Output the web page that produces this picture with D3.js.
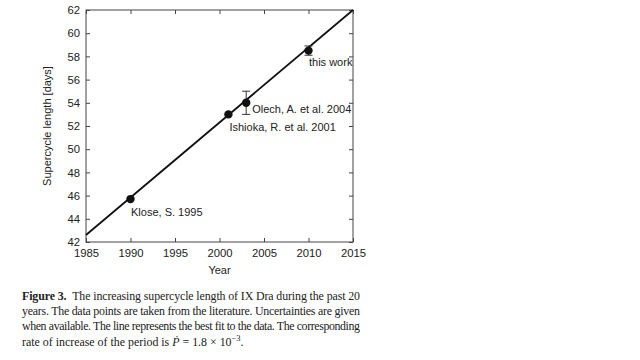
<!DOCTYPE html>
<html><head><meta charset="utf-8">
<script src="https://cdn.jsdelivr.net/npm/d3@7"></script>
<style>body{margin:0;background:#fff}svg{display:block}</style>
</head><body>
<svg id="c" width="640" height="360"></svg>
<script>
const years = [1990, 2001, 2003, 2010];
const lengths = [45.7, 53.0, 54.0, 58.5];
const errors = [0, 0, 1.0, 0.4];
const labels = ["Klose, S. 1995", "Ishioka, R. et al. 2001", "Olech, A. et al. 2004", "this work"];
const fitYears = [1985, 2015];
const fitValues = [42.6, 62.0];
const xTicks = [1985, 1990, 1995, 2000, 2005, 2010, 2015];
const yTicks = [42, 44, 46, 48, 50, 52, 54, 56, 58, 60, 62];
const captionLines = [
  "The increasing supercycle length of IX Dra during the past 20",
  "years. The data points are taken from the literature. Uncertainties are given",
  "when available. The line represents the best fit to the data. The corresponding",
  "rate of increase of the period is "
];

const svg = d3.select("#c");
const L = 86, R = 353, T = 10, B = 242;
const x = d3.scaleLinear().domain([1985, 2015]).range([L, R]);
const y = d3.scaleLinear().domain([42, 62]).range([B, T]);
const ink = "#222";
const sans = "'Liberation Sans', Arial, sans-serif";

// frame
svg.append("rect").attr("x", L).attr("y", T).attr("width", R - L).attr("height", B - T)
  .attr("fill", "none").attr("stroke", "#444").attr("stroke-width", 1);

// axes with inward ticks
const gx = svg.append("g").attr("transform", `translate(0,${B})`)
  .call(d3.axisBottom(x).tickValues(xTicks).tickFormat(d3.format("d")).tickSizeInner(-4).tickSizeOuter(0).tickPadding(7));
const gxt = svg.append("g").attr("transform", `translate(0,${T})`)
  .call(d3.axisTop(x).tickValues(xTicks).tickSizeInner(-4).tickSizeOuter(0).tickFormat(""));
const gy = svg.append("g").attr("transform", `translate(${L},0)`)
  .call(d3.axisLeft(y).tickValues(yTicks).tickSizeInner(-4).tickSizeOuter(0).tickPadding(6));
const gyr = svg.append("g").attr("transform", `translate(${R},0)`)
  .call(d3.axisRight(y).tickValues(yTicks).tickSizeInner(-4).tickSizeOuter(0).tickFormat(""));
[gx, gxt, gy, gyr].forEach(g => {
  g.select(".domain").remove();
  g.selectAll("line").attr("stroke", "#444");
  g.selectAll("text").attr("font-family", sans).attr("font-size", 11.3).attr("fill", ink);
});

// axis titles
svg.append("text").attr("x", (L + R) / 2).attr("y", 274).attr("text-anchor", "middle")
  .attr("font-family", sans).attr("font-size", 11).attr("fill", ink).text("Year");
svg.append("text").attr("transform", `translate(51,${(T + B) / 2}) rotate(-90)`).attr("text-anchor", "middle")
  .attr("font-family", sans).attr("font-size", 11).attr("fill", ink).text("Supercycle length [days]");

// fit line
const fit = fitYears.map((d, i) => [d, fitValues[i]]);
svg.append("path").attr("d", d3.line().x(d => x(d[0])).y(d => y(d[1]))(fit))
  .attr("stroke", "#111").attr("stroke-width", 1.8).attr("fill", "none");

const pts = years.map((d, i) => ({yr: d, v: lengths[i], e: errors[i], lab: labels[i]}));
// error bars
const eb = svg.append("g").selectAll("g").data(pts.filter(d => d.e > 0)).join("g").attr("stroke", "#333").attr("stroke-width", 1);
eb.append("line").attr("x1", d => x(d.yr)).attr("x2", d => x(d.yr)).attr("y1", d => y(d.v - d.e)).attr("y2", d => y(d.v + d.e));
eb.append("line").attr("x1", d => x(d.yr) - 4).attr("x2", d => x(d.yr) + 4).attr("y1", d => y(d.v - d.e)).attr("y2", d => y(d.v - d.e));
eb.append("line").attr("x1", d => x(d.yr) - 4).attr("x2", d => x(d.yr) + 4).attr("y1", d => y(d.v + d.e)).attr("y2", d => y(d.v + d.e));

// points
svg.append("g").selectAll("circle").data(pts).join("circle")
  .attr("cx", d => x(d.yr)).attr("cy", d => y(d.v)).attr("r", 4.2).attr("fill", "#111");

// annotations (offsets relative to point)
const offs = [[0.5, 17], [1, 16.5], [6, 10], [0.5, 15.5]];
svg.append("g").selectAll("text").data(pts).join("text")
  .attr("x", (d, i) => x(d.yr) + offs[i][0]).attr("y", (d, i) => y(d.v) + offs[i][1])
  .attr("font-family", sans).attr("font-size", 11).attr("fill", ink).text(d => d.lab);

// caption
const serif = "'Liberation Serif', 'Times New Roman', serif";
const cap = svg.append("g").attr("font-family", serif).attr("font-size", 11.9).attr("fill", "#222");
const capX = 22, capW = 338, capY0 = 300, capDy = 15.2;
const t0 = cap.append("text").attr("x", capX).attr("y", capY0).attr("textLength", capW).attr("lengthAdjust", "spacing");
t0.append("tspan").attr("font-weight", "bold").text("Figure 3.");
t0.append("tspan").text("\u2002" + captionLines[0]);
cap.append("text").attr("x", capX).attr("y", capY0 + capDy).attr("textLength", capW).attr("lengthAdjust", "spacing").text(captionLines[1]);
cap.append("text").attr("x", capX).attr("y", capY0 + 2 * capDy).attr("textLength", capW).attr("lengthAdjust", "spacing").text(captionLines[2]);
const t3 = cap.append("text").attr("x", capX).attr("y", capY0 + 3 * capDy);
t3.append("tspan").text(captionLines[3]);
t3.append("tspan").attr("font-style", "italic").text("P\u0307");
t3.append("tspan").text(" = 1.8 \u00d7 10");
t3.append("tspan").attr("dy", -4.5).attr("font-size", 8.5).text("\u22123");
t3.append("tspan").attr("dy", 4.5).text(".");
</script>
</body></html>
